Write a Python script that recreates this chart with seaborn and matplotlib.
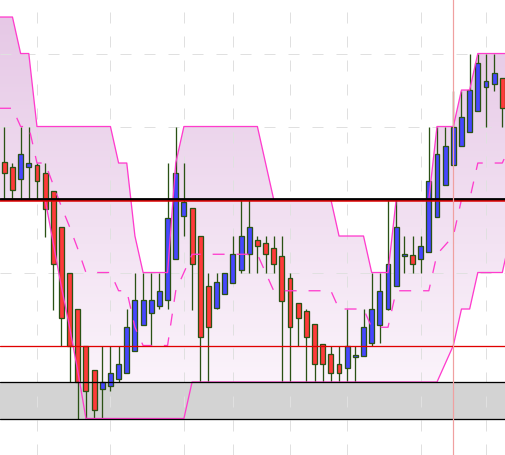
import numpy as np
import pandas as pd
import matplotlib
matplotlib.use("Agg")
import matplotlib.pyplot as plt
import seaborn as sns
from matplotlib.colors import LinearSegmentedColormap
from matplotlib.patches import PathPatch

# ---------------- data ----------------
opens = [95.2, 94.4, 92.8, 94.5, 94.7, 93.6, 91.2, 86.2, 79.9, 75.0,
         69.9, 66.7, 64.0, 64.4, 65.4, 66.3, 69.3, 72.8, 74.5, 75.4,
         76.3, 81.9, 87.8, 88.9, 85.0, 78.1, 75.2, 77.0, 78.5, 80.4,
         82.6, 84.4, 84.1, 83.3, 82.2, 79.2, 75.8, 74.7, 72.9, 70.2,
         68.8, 67.4, 66.9, 68.4, 68.5, 70.4, 72.8, 75.0, 78.1, 82.2,
         82.4, 81.8, 82.8, 87.6, 92.0, 94.7, 97.3, 99.2, 102.1, 105.4,
         105.8, 106.6]
highs = [100, 95, 100, 100, 95, 95, 91.2, 86.2, 79.9, 75.0,
         69.9, 66.7, 69.9, 69.9, 69.9, 75, 79.9, 79.9, 79.9, 79.9,
         95, 100, 95, 88.9, 85, 79.9, 79.9, 79.9, 85, 90,
         90, 85, 85, 85, 85, 79.9, 75.8, 75, 72.9, 70.2,
         69.9, 69.9, 75, 69.9, 75, 79.9, 79.9, 90, 90, 85,
         85, 85, 100, 100, 100, 104.9, 104.9, 110, 110, 110,
         110, 106.6]
lows = [90, 90, 90, 90, 90, 84.9, 74.9, 70, 65, 60,
        60, 60, 60, 63.8, 65, 66.3, 69.3, 72.8, 70, 75,
        75, 81.9, 85, 74.9, 65, 65, 75, 77.0, 78.5, 79.9,
        79.9, 79.9, 79.9, 79.9, 65, 65, 69.9, 65, 65, 65,
        65, 65, 65, 65, 68.5, 69.9, 70.4, 74.9, 78.1, 79.9,
        79.9, 79.9, 82.8, 87.6, 92.0, 94.7, 97.3, 99.2, 102.1, 100,
        104.9, 100]
closes = [93.7, 91.3, 96.2, 95.0, 92.5, 88.7, 81.1, 73.7, 70.0, 65.0,
          63.7, 61.1, 65.0, 66.2, 67.4, 72.5, 76.2, 76.2, 76.2, 77.4,
          87.4, 93.7, 89.7, 81.2, 71.1, 72.5, 78.7, 79.9, 82.5, 85.0,
          86.2, 83.7, 82.5, 81.1, 76.1, 72.5, 73.7, 71.1, 67.4, 67.4,
          66.2, 66.2, 69.9, 68.7, 72.5, 75.0, 77.4, 81.1, 86.2, 82.5,
          81.1, 83.7, 92.5, 96.2, 97.4, 100.0, 101.3, 105.0, 108.7, 106.2,
          107.4, 102.5]

# channel values, one per candle slot starting one slot before the first candle
band_upper = [115, 115, 115, 110, 110,
              100, 100, 100, 100, 100, 100, 100, 100, 100, 100,
              95, 95, 85, 80, 80, 80, 80, 95,
              100, 100, 100, 100, 100, 100, 100, 100, 100, 100,
              95, 90, 90, 90, 90, 90, 90, 90, 90,
              85, 85, 85, 85, 80, 80, 80,
              90, 90, 90, 90, 90, 100, 100, 100, 105, 105,
              110, 110, 110, 110, 110]
band_lower = [90, 90, 90, 90, 90, 90, 90, 84, 78, 72.5, 66.5,
              60, 60, 60, 60, 60, 60, 60, 60, 60, 60, 60, 60, 60,
              65, 65, 65, 65, 65, 65, 65, 65, 65, 65, 65, 65, 65, 65, 65, 65,
              65, 65, 65, 65, 65, 65, 65, 65, 65, 65, 65, 65, 65, 65, 65,
              67.5, 70, 75, 75, 80, 80, 80, 80, 85]
band_mid = [102.5, 102.5, 102.5, 100, 100, 95, 95, 92, 89, 86.25, 83.25,
            80, 80, 80, 80, 77.5, 77.5, 72.5, 70, 70, 70, 70, 77.5, 80,
            82.5, 82.5, 82.5, 82.5, 82.5, 82.5, 82.5, 82.5, 82.5,
            80, 77.5, 77.5, 77.5, 77.5, 77.5, 77.5, 77.5, 77.5,
            75, 75, 75, 75, 72.5, 72.5, 72.5,
            77.5, 77.5, 77.5, 77.5, 77.5, 82.5, 83.75, 85, 90, 90,
            95, 95, 95, 95, 97.5]

grid_x = [4, 13, 22, 28, 35, 42, 51, 59]
grid_y = [60, 70, 80, 90, 100, 110]

resistance_black = 90.07
resistance_red = 89.78
support_red = 69.9
zone_top = 65.0
zone_bottom = 59.93
marker_index = 55

# ---------------- style ----------------
PX = 72 / 100.0
XMIN, XMAX = -0.527, 61.33
YMIN, YMAX = 55.0, 117.47
pink = "#ff3ccd"
wick_col = "#2a5214"
red_body = "#ff3a3a"
blue_body = "#4646ff"

sns.set_theme(style="white")
fig = plt.figure(figsize=(5.05, 4.56), dpi=100)
ax = fig.add_axes([0, 0, 1, 1])

candles = pd.DataFrame(dict(i=np.arange(len(opens)), open=opens, high=highs,
                            low=lows, close=closes))
bands = pd.DataFrame(dict(i=np.arange(-1, len(band_upper) - 1), upper=band_upper,
                          lower=band_lower, mid=band_mid))

# gradient channel fill
fb = ax.fill_between(bands["i"], bands["lower"], bands["upper"],
                     facecolor="none", edgecolor="none", zorder=0.2)
patch = PathPatch(fb.get_paths()[0], transform=ax.transData,
                  facecolor="none", edgecolor="none")
ax.add_patch(patch)
cmap = LinearSegmentedColormap.from_list("chan", ["#e5c6e5", "#fffcff"])
grad = np.linspace(0, 1, 256).reshape(-1, 1)
im = ax.imshow(grad, cmap=cmap, extent=[XMIN, XMAX, YMIN, YMAX], origin="upper",
               aspect="auto", zorder=0.2, interpolation="bilinear")
im.set_clip_path(patch)

# gray zone
ax.axhspan(zone_bottom, zone_top, facecolor="#d3d3d3", edgecolor="none", zorder=0.3)

# grid
ax.set_xticks(grid_x)
ax.set_yticks(grid_y)
ax.set_axisbelow(True)
ax.grid(True, color="#e0e0e0", linewidth=1 * PX, linestyle=(0, (11, 13)))
ax.tick_params(length=0, labelbottom=False, labelleft=False)
for s in ax.spines.values():
    s.set_visible(False)

# candles
up = candles["close"] >= candles["open"]
ax.vlines(candles["i"], candles["low"], candles["high"], colors=wick_col,
          linewidth=1.3 * PX, zorder=2)
ax.bar(candles["i"], (candles["close"] - candles["open"]).abs(),
       bottom=np.minimum(candles["open"], candles["close"]), width=0.6,
       color=[blue_body if u else red_body for u in up],
       edgecolor=wick_col, linewidth=1.3 * PX, zorder=2.1)

# channel lines
sns.lineplot(data=bands, x="i", y="upper", color=pink, linewidth=1.3 * PX, ax=ax, zorder=3)
sns.lineplot(data=bands, x="i", y="lower", color=pink, linewidth=1.3 * PX, ax=ax, zorder=3)
sns.lineplot(data=bands, x="i", y="mid", color=pink, linewidth=1.3 * PX, ax=ax, zorder=3)
ax.lines[-1].set_linestyle((0, (9.2, 9.2)))

# horizontal levels
ax.axhline(zone_top, color="black", linewidth=1.3 * PX, zorder=4)
ax.axhline(zone_bottom, color="black", linewidth=1.3 * PX, zorder=4)
ax.axhline(support_red, color="#e00000", linewidth=1.3 * PX, zorder=4)
ax.axhline(resistance_black, color="black", linewidth=2.8 * PX, zorder=4)
ax.axhline(resistance_red, color="#e00000", linewidth=1.5 * PX, zorder=4.1)

# vertical marker
ax.axvline(marker_index, color="#f0a0a0", linewidth=1.2 * PX, zorder=4.5)

ax.set_xlabel("")
ax.set_ylabel("")
ax.set_xlim(XMIN, XMAX)
ax.set_ylim(YMIN, YMAX)
fig.savefig("out.png", dpi=100)
